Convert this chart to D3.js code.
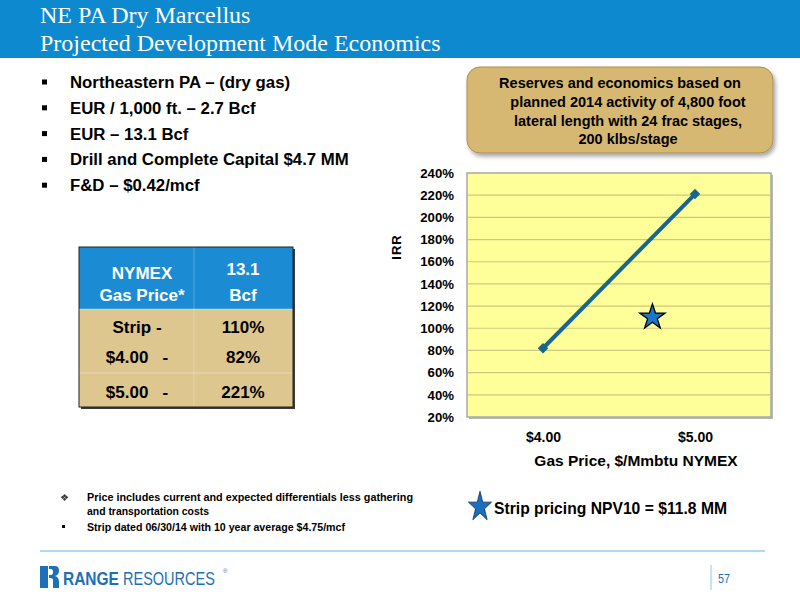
<!DOCTYPE html>
<html>
<head>
<meta charset="utf-8">
<script src="https://cdn.jsdelivr.net/npm/d3@7"></script>
<style>
  body { margin: 0; background: #fff; }
  svg { display: block; }
</style>
</head>
<body>
<div id="chart"></div>
<script>
// slide text
var titleLines = ["NE PA Dry Marcellus", "Projected Development Mode Economics"];
var bullets = [
  "Northeastern PA \u2013 (dry gas)",
  "EUR / 1,000 ft. \u2013 2.7 Bcf",
  "EUR \u2013 13.1 Bcf",
  "Drill and Complete Capital $4.7 MM",
  "F&D \u2013 $0.42/mcf"
];
var calloutLines = [
  "Reserves and economics based on",
  "planned 2014 activity of 4,800 foot",
  "lateral length with 24 frac stages,",
  "200 klbs/stage"
];

// table
var tableHeader = [["NYMEX", "Gas Price*"], ["13.1", "Bcf"]];
var tablePrices = ["Strip -", "$4.00   -", "$5.00   -"];
var tableIrr = ["110%", "82%", "221%"];

// chart data
var gasPrices = [4.00, 5.00];
var irrValues = [0.82, 2.21];
var stripPrice = 4.72;
var stripIrr = 1.10;
var yTicks = [0.2, 0.4, 0.6, 0.8, 1.0, 1.2, 1.4, 1.6, 1.8, 2.0, 2.2, 2.4];
var xTicks = [4.00, 5.00];

var footnotes = [
  "Price includes current and expected differentials less gathering",
  "and transportation costs",
  "Strip dated 06/30/14 with 10 year average $4.75/mcf"
];
var stripNote = "Strip pricing NPV10 = $11.8 MM";

var width = 800, height = 600;
var sans = "'Liberation Sans', Arial, sans-serif";
var blue = "#0c89cf";

var svg = d3.select("#chart").append("svg")
  .attr("width", width)
  .attr("height", height);

var defs = svg.append("defs");
var shadow = defs.append("filter").attr("id", "shadow")
  .attr("x", "-10%").attr("y", "-10%").attr("width", "130%").attr("height", "140%");
shadow.append("feDropShadow")
  .attr("dx", 2).attr("dy", 3).attr("stdDeviation", 2)
  .attr("flood-color", "#000").attr("flood-opacity", 0.35);

// header band
svg.append("rect")
  .attr("x", 0).attr("y", 0)
  .attr("width", width).attr("height", 58)
  .attr("fill", blue);

svg.selectAll(".title")
  .data(titleLines)
  .enter().append("text")
  .attr("class", "title")
  .attr("x", 40)
  .attr("y", (d, i) => 23 + i * 28)
  .style("font-family", "'Liberation Serif', 'Times New Roman', serif")
  .style("font-size", "24px")
  .attr("fill", "#fff")
  .text(d => d);

// bullets
var bulletG = svg.append("g");
bullets.forEach(function (b, i) {
  var cy = 82 + i * 25.8;
  bulletG.append("rect")
    .attr("x", 42).attr("y", cy - 2.5)
    .attr("width", 5).attr("height", 5)
    .attr("fill", "#000");
  bulletG.append("text")
    .attr("x", 70).attr("y", cy + 6)
    .style("font-family", sans)
    .style("font-size", "16.8px")
    .style("font-weight", "bold")
    .text(b);
});

// callout box
svg.append("rect")
  .attr("x", 467).attr("y", 67)
  .attr("width", 306).attr("height", 86)
  .attr("rx", 13).attr("ry", 13)
  .attr("fill", "#d6b872")
  .attr("stroke", "#a88f55")
  .attr("stroke-width", 1)
  .attr("filter", "url(#shadow)");

svg.selectAll(".callout")
  .data(calloutLines)
  .enter().append("text")
  .attr("class", "callout")
  .attr("x", (d, i) => i == 0 ? 620 : 628)
  .attr("y", (d, i) => 88 + i * 18.8)
  .attr("text-anchor", "middle")
  .style("font-family", sans)
  .style("font-size", "14.5px")
  .style("font-weight", "bold")
  .text(d => d);

// table
var tbl = { left: 79, mid: 194, right: 293, top: 247, headBottom: 309, sep: 373, bottom: 407 };
var rowCenters = [327, 357, 392];
var tableG = svg.append("g");

tableG.append("rect")
  .attr("x", tbl.left + 2).attr("y", tbl.top + 2)
  .attr("width", tbl.right - tbl.left).attr("height", tbl.bottom - tbl.top)
  .attr("fill", "#3a3a3a");
tableG.append("rect")
  .attr("x", tbl.left).attr("y", tbl.top)
  .attr("width", tbl.right - tbl.left).attr("height", tbl.headBottom - tbl.top)
  .attr("fill", "#1b8bd3");
tableG.append("rect")
  .attr("x", tbl.left).attr("y", tbl.headBottom)
  .attr("width", tbl.right - tbl.left).attr("height", tbl.bottom - tbl.headBottom)
  .attr("fill", "#ddc78f");
// inner lines
tableG.append("line")
  .attr("x1", tbl.mid).attr("x2", tbl.mid)
  .attr("y1", tbl.top).attr("y2", tbl.bottom)
  .attr("stroke", "#fff").attr("stroke-opacity", 0.25);
[tbl.headBottom, tbl.sep].forEach(function (yy) {
  tableG.append("line")
    .attr("x1", tbl.left).attr("x2", tbl.right)
    .attr("y1", yy).attr("y2", yy)
    .attr("stroke", "#fff").attr("stroke-opacity", 0.35);
});
tableG.append("rect")
  .attr("x", tbl.left).attr("y", tbl.top)
  .attr("width", tbl.right - tbl.left).attr("height", tbl.bottom - tbl.top)
  .attr("fill", "none")
  .attr("stroke", "#222").attr("stroke-width", 1);

var colCenters = [142, 243];
tableHeader.forEach(function (lines, c) {
  lines.forEach(function (t, j) {
    tableG.append("text")
      .attr("x", colCenters[c])
      .attr("y", (c == 0 ? 279 : 275) + j * (c == 0 ? 22 : 26))
      .attr("text-anchor", "middle")
      .style("font-family", sans)
      .style("font-size", "17px")
      .style("font-weight", "bold")
      .attr("fill", "#fff")
      .text(t);
  });
});
tablePrices.forEach(function (t, i) {
  tableG.append("text")
    .attr("x", 137).attr("y", rowCenters[i] + 6)
    .attr("text-anchor", "middle")
    .style("white-space", "pre")
    .style("font-family", sans)
    .style("font-size", "17px")
    .style("font-weight", "bold")
    .text(t);
  tableG.append("text")
    .attr("x", 243).attr("y", rowCenters[i] + 6)
    .attr("text-anchor", "middle")
    .style("font-family", sans)
    .style("font-size", "17px")
    .style("font-weight", "bold")
    .text(tableIrr[i]);
});

// IRR chart
var plot = { left: 467, right: 771, top: 173, bottom: 417 };
var x = d3.scaleLinear().domain([3.5, 5.5]).range([plot.left, plot.right]);
var y = d3.scaleLinear().domain([0.2, 2.4]).range([plot.bottom, plot.top]);

var chartG = svg.append("g");
chartG.append("rect")
  .attr("x", plot.left + 2).attr("y", plot.top + 2)
  .attr("width", plot.right - plot.left).attr("height", plot.bottom - plot.top)
  .attr("fill", "#b8b8b8");
chartG.append("rect")
  .attr("x", plot.left).attr("y", plot.top)
  .attr("width", plot.right - plot.left).attr("height", plot.bottom - plot.top)
  .attr("fill", "#ffff99")
  .attr("stroke", "#a8a8a8").attr("stroke-width", 1.5);

// gridlines
chartG.append("g")
  .selectAll("line")
  .data(yTicks.slice(1, -1))
  .enter().append("line")
  .attr("x1", plot.left + 1).attr("x2", plot.right - 1)
  .attr("y1", d => y(d)).attr("y2", d => y(d))
  .attr("stroke", "#cfc77e").attr("stroke-width", 1.2);

// y axis
var yAxis = chartG.append("g")
  .attr("transform", "translate(" + (plot.left - 11) + ",0)")
  .call(d3.axisLeft(y).tickValues(yTicks).tickFormat(d3.format(".0%")).tickSize(0).tickPadding(2));
yAxis.select(".domain").remove();
yAxis.selectAll("text")
  .style("font-family", sans)
  .style("font-size", "13.2px")
  .style("font-weight", "bold")
  .attr("fill", "#000");

// x axis
var xAxis = chartG.append("g")
  .attr("transform", "translate(0," + (plot.bottom + 12) + ")")
  .call(d3.axisBottom(x).tickValues(xTicks).tickFormat(d => "$" + d3.format(".2f")(d)).tickSize(0));
xAxis.select(".domain").remove();
xAxis.selectAll("text")
  .style("font-family", sans)
  .style("font-size", "14px")
  .style("font-weight", "bold")
  .attr("fill", "#000");

chartG.append("text")
  .attr("x", 636).attr("y", 466)
  .attr("text-anchor", "middle")
  .style("font-family", sans)
  .style("font-size", "15.5px")
  .style("font-weight", "bold")
  .text("Gas Price, $/Mmbtu NYMEX");

chartG.append("text")
  .attr("transform", "translate(401,247) rotate(-90)")
  .attr("text-anchor", "middle")
  .style("font-family", sans)
  .style("font-size", "13px")
  .style("font-weight", "bold")
  .style("letter-spacing", "1px")
  .text("IRR");

// line and markers
var pts = gasPrices.map((p, i) => [p, irrValues[i]]);
chartG.append("path")
  .datum(pts)
  .attr("fill", "none")
  .attr("stroke", "#17668c")
  .attr("stroke-width", 4)
  .attr("d", d3.line().x(d => x(d[0])).y(d => y(d[1])));
chartG.selectAll(".marker")
  .data(pts)
  .enter().append("path")
  .attr("class", "marker")
  .attr("transform", d => "translate(" + x(d[0]) + "," + y(d[1]) + ")")
  .attr("d", d3.symbol(d3.symbolDiamond2, 70))
  .attr("fill", "#17668c");

// strip star
chartG.append("path")
  .attr("transform", "translate(" + x(stripPrice) + "," + y(stripIrr) + ")")
  .attr("d", d3.symbol(d3.symbolStar, 200))
  .attr("fill", "#1b78c8")
  .attr("stroke", "#000").attr("stroke-width", 1.3);

// footnotes (condensed look via textLength)
var noteG = svg.append("g");
noteG.append("text")
  .attr("x", 60).attr("y", 501)
  .style("font-size", "10px")
  .attr("fill", "#333")
  .text("\u2756");
noteG.append("rect")
  .attr("x", 62).attr("y", 525)
  .attr("width", 3).attr("height", 3)
  .attr("fill", "#000");
var noteLen = [326, 122, 258];
footnotes.forEach(function (t, i) {
  noteG.append("text")
    .attr("x", 87).attr("y", [501, 515, 531][i])
    .attr("textLength", noteLen[i])
    .attr("lengthAdjust", "spacingAndGlyphs")
    .style("font-family", sans)
    .style("font-size", "11.5px")
    .style("font-weight", "bold")
    .text(t);
});

noteG.append("path")
  .attr("transform", "translate(480,507) scale(0.85,1.1)")
  .attr("d", d3.symbol(d3.symbolStar, 230))
  .attr("fill", "#1b6fc0")
  .attr("stroke", "#0c2a50").attr("stroke-width", 0.8);
noteG.append("text")
  .attr("x", 494).attr("y", 514)
  .attr("textLength", 233)
  .attr("lengthAdjust", "spacingAndGlyphs")
  .style("font-family", sans)
  .style("font-size", "17px")
  .style("font-weight", "bold")
  .text(stripNote);

// footer
svg.append("line")
  .attr("x1", 40).attr("x2", 765)
  .attr("y1", 551).attr("y2", 551)
  .attr("stroke", "#62b5e5").attr("stroke-width", 1.2);

var logoBlue = "#1d6fb8";
var logo = svg.append("g").attr("transform", "translate(40,566)");
logo.append("path")
  .attr("d", "M0,0 H8 V22 H0 Z M9,0 H15 Q19,0 19,5 Q19,9 15,10 Q19,11 19,16 V22 H13 V14 Q13,12 10,12 H9 V9 H11 Q13,9 13,6 Q13,3 11,3 H9 Z")
  .attr("fill", logoBlue);
// logo wordmark: smaller font stretched vertically gives the condensed look
logo.append("text")
  .attr("transform", "translate(23,19) scale(1,1.18)")
  .style("font-family", sans)
  .style("font-size", "15.5px")
  .style("font-weight", "bold")
  .attr("fill", logoBlue)
  .text("RANGE");
logo.append("text")
  .attr("transform", "translate(83,19) scale(1,1.24)")
  .style("font-family", sans)
  .style("font-size", "14.5px")
  .attr("fill", logoBlue)
  .text("RESOURCES");
logo.append("text")
  .attr("x", 183).attr("y", 7)
  .style("font-family", sans)
  .style("font-size", "6px")
  .attr("fill", logoBlue)
  .text("\u00ae");

svg.append("line")
  .attr("x1", 711).attr("x2", 711)
  .attr("y1", 565).attr("y2", 590)
  .attr("stroke", "#8fc6e8").attr("stroke-width", 1);
svg.append("text")
  .attr("x", 718).attr("y", 583)
  .attr("textLength", 12)
  .attr("lengthAdjust", "spacingAndGlyphs")
  .style("font-family", sans)
  .style("font-size", "13px")
  .attr("fill", logoBlue)
  .text("57");
</script>
</body>
</html>
